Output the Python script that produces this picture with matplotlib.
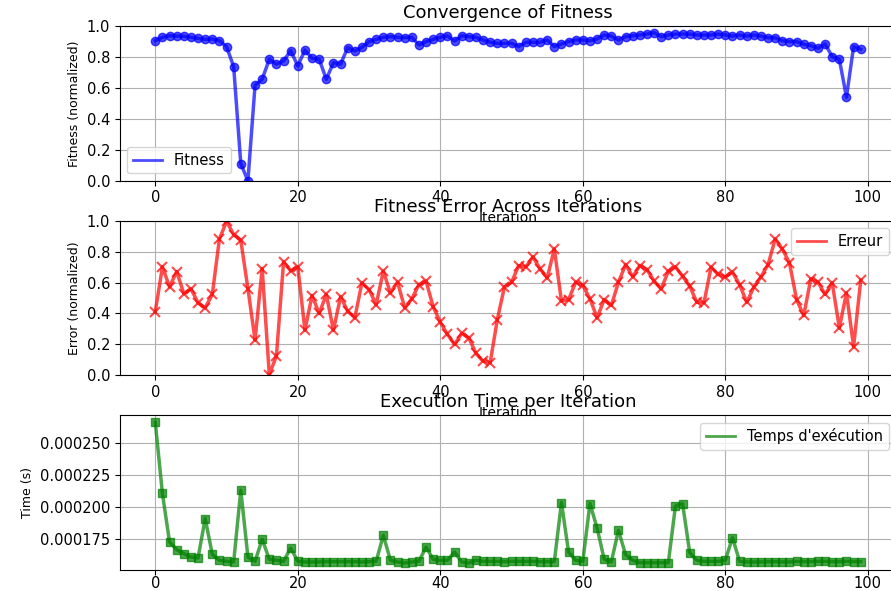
import matplotlib
matplotlib.use("Agg")
import matplotlib.pyplot as plt
from matplotlib.lines import Line2D
import numpy as np

iterations = np.arange(100)

fitness = [
    0.905, 0.927, 0.937, 0.935, 0.933, 0.927, 0.920, 0.914, 0.916, 0.905,
    0.867, 0.737, 0.110, 0.000, 0.617, 0.656, 0.785, 0.753, 0.774, 0.841,
    0.742, 0.845, 0.791, 0.785, 0.656, 0.763, 0.753, 0.860, 0.839, 0.862,
    0.899, 0.914, 0.927, 0.931, 0.927, 0.925, 0.927, 0.877, 0.899, 0.914,
    0.927, 0.937, 0.903, 0.937, 0.931, 0.927, 0.910, 0.895, 0.888, 0.888,
    0.888, 0.867, 0.895, 0.895, 0.895, 0.910, 0.867, 0.884, 0.899, 0.910,
    0.910, 0.905, 0.916, 0.942, 0.935, 0.910, 0.931, 0.937, 0.942, 0.948,
    0.957, 0.931, 0.942, 0.948, 0.948, 0.948, 0.942, 0.942, 0.942, 0.948,
    0.942, 0.935, 0.942, 0.935, 0.942, 0.935, 0.924, 0.924, 0.905, 0.899,
    0.899, 0.882, 0.873, 0.856, 0.884, 0.802, 0.785, 0.540, 0.867, 0.850,
]

error = [
    0.411, 0.701, 0.572, 0.671, 0.529, 0.559, 0.469, 0.437, 0.523, 0.882,
    0.995, 0.910, 0.873, 0.561, 0.228, 0.690, 0.005, 0.125, 0.733, 0.677,
    0.701, 0.292, 0.516, 0.400, 0.523, 0.292, 0.508, 0.415, 0.372, 0.598,
    0.555, 0.458, 0.673, 0.533, 0.602, 0.437, 0.495, 0.587, 0.609, 0.443,
    0.344, 0.265, 0.200, 0.271, 0.243, 0.142, 0.092, 0.082, 0.361, 0.572,
    0.602, 0.710, 0.701, 0.766, 0.688, 0.630, 0.817, 0.480, 0.490, 0.602,
    0.581, 0.495, 0.372, 0.490, 0.452, 0.602, 0.716, 0.638, 0.710, 0.684,
    0.609, 0.559, 0.673, 0.701, 0.641, 0.576, 0.473, 0.469, 0.699, 0.652,
    0.637, 0.667, 0.587, 0.473, 0.570, 0.637, 0.716, 0.882, 0.817, 0.727,
    0.490, 0.387, 0.624, 0.602, 0.523, 0.598, 0.307, 0.533, 0.185, 0.615,
]

# execution time in units of 1e-4 s
exec_time = [
    2.659, 2.106, 1.729, 1.670, 1.639, 1.612, 1.605, 1.911, 1.633, 1.587,
    1.579, 1.574, 2.132, 1.612, 1.579, 1.750, 1.595, 1.587, 1.579, 1.682,
    1.579, 1.574, 1.574, 1.574, 1.576, 1.576, 1.576, 1.576, 1.576, 1.574,
    1.576, 1.579, 1.781, 1.587, 1.574, 1.566, 1.574, 1.579, 1.690, 1.595,
    1.587, 1.587, 1.651, 1.574, 1.566, 1.587, 1.579, 1.579, 1.579, 1.576,
    1.579, 1.579, 1.579, 1.579, 1.576, 1.576, 1.576, 2.036, 1.651, 1.587,
    1.579, 2.028, 1.838, 1.595, 1.574, 1.820, 1.631, 1.587, 1.568, 1.568,
    1.568, 1.568, 1.568, 2.009, 2.028, 1.647, 1.587, 1.579, 1.579, 1.579,
    1.587, 1.763, 1.579, 1.574, 1.574, 1.574, 1.576, 1.576, 1.574, 1.574,
    1.579, 1.576, 1.576, 1.579, 1.579, 1.576, 1.576, 1.579, 1.576, 1.576,
]
exec_time = [t * 1e-4 for t in exec_time]

fig, axes = plt.subplots(3, 1, figsize=(8.91, 5.91), dpi=100)
fig.subplots_adjust(left=0.1347, right=1.0056, top=0.956, bottom=0.0355, hspace=0.258)
ax1, ax2, ax3 = axes


def line_handle(color):
    # legend shows only the line, no marker
    return Line2D([], [], color=color, linewidth=2, alpha=0.7)


ax1.plot(iterations, fitness, color="blue", marker="o", markersize=6,
         linewidth=2.5, alpha=0.7)
ax1.set_ylim(0, 1)
ax1.set_title("Convergence of Fitness", fontsize=13)
ax1.set_xlabel("Iteration", fontsize=10)
ax1.set_ylabel("Fitness (normalized)", fontsize=9)
ax1.legend([line_handle("blue")], ["Fitness"], loc="lower left", fontsize=10.5)
ax1.grid(True)

ax2.plot(iterations, error, color="red", marker="x", markersize=7,
         markeredgewidth=1.5, linewidth=2.5, alpha=0.7)
ax2.set_ylim(0, 1)
ax2.set_title("Fitness Error Across Iterations", fontsize=13)
ax2.set_xlabel("Iteration", fontsize=10)
ax2.set_ylabel("Error (normalized)", fontsize=9)
ax2.legend([line_handle("red")], ["Erreur"], loc="upper right", fontsize=10.5)
ax2.grid(True)

ax3.plot(iterations, exec_time, color="green", marker="s", markersize=6,
         linewidth=2.5, alpha=0.7)
ax3.set_title("Execution Time per Iteration", fontsize=13)
ax3.set_ylabel("Time (s)", fontsize=9)
ax3.legend([line_handle("green")], ["Temps d'exécution"], loc="upper right", fontsize=10.5)
ax3.grid(True)

for ax in axes:
    ax.tick_params(labelsize=10.5)
ax3.tick_params(axis="x", pad=1)

fig.savefig("out.png", dpi=100)
